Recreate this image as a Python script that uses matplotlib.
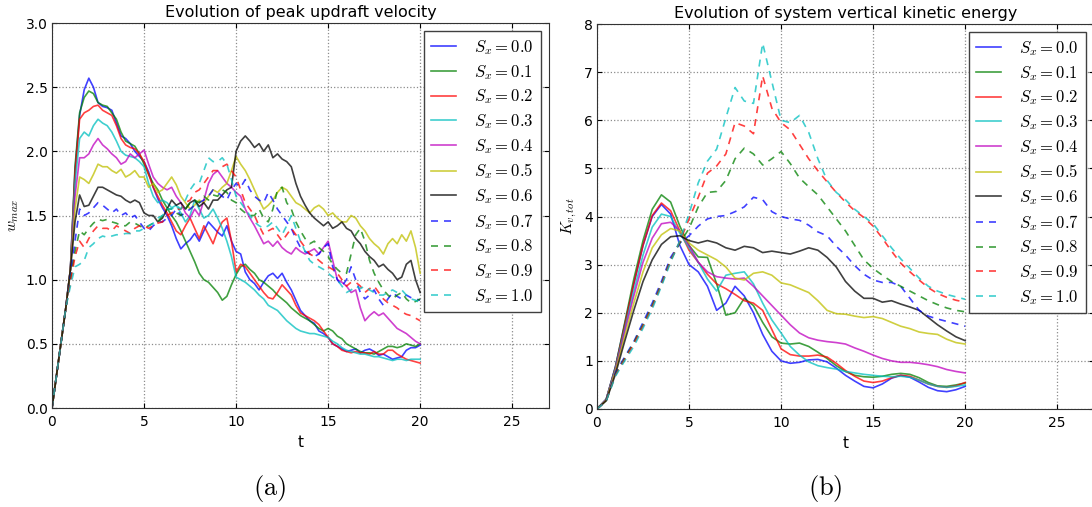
# Evolution of peak updraft velocity / vertical kinetic energy for different S_x
import numpy as np
import matplotlib
matplotlib.use('Agg')
import matplotlib.pyplot as plt

# ---------------- data ----------------
labels = ['$S_x = 0.0$', '$S_x = 0.1$', '$S_x = 0.2$', '$S_x = 0.3$',
          '$S_x = 0.4$', '$S_x = 0.5$', '$S_x = 0.6$', '$S_x = 0.7$',
          '$S_x = 0.8$', '$S_x = 0.9$', '$S_x = 1.0$']

# (a) peak updraft velocity, step 0.25
t_w = np.linspace(0, 20, 81)

w_s00 = [0.00, 0.26, 0.52, 0.78, 1.08, 1.85, 2.28, 2.48, 2.57, 2.50, 2.38, 2.35,
         2.34, 2.32, 2.22, 2.12, 2.10, 2.06, 2.00, 1.96, 1.92, 1.84, 1.72, 1.63,
         1.56, 1.50, 1.42, 1.32, 1.24, 1.28, 1.31, 1.36, 1.30, 1.38, 1.45, 1.41,
         1.37, 1.34, 1.42, 1.30, 1.22, 1.20, 1.06, 1.00, 0.97, 0.92, 0.98, 1.03,
         1.05, 1.01, 1.05, 0.98, 0.92, 0.84, 0.76, 0.72, 0.68, 0.66, 0.60, 0.58,
         0.55, 0.50, 0.48, 0.46, 0.44, 0.45, 0.46, 0.43, 0.45, 0.46, 0.44, 0.41,
         0.42, 0.40, 0.38, 0.39, 0.40, 0.45, 0.47, 0.47, 0.49]
w_s01 = [0.00, 0.26, 0.52, 0.78, 1.08, 1.88, 2.30, 2.42, 2.47, 2.45, 2.38, 2.36,
         2.35, 2.30, 2.25, 2.15, 2.08, 2.06, 2.04, 1.98, 1.90, 1.82, 1.75, 1.70,
         1.62, 1.56, 1.50, 1.45, 1.38, 1.30, 1.22, 1.14, 1.05, 1.00, 0.98, 0.94,
         0.90, 0.84, 0.87, 0.96, 1.04, 1.10, 1.12, 1.08, 1.05, 1.00, 0.98, 0.95,
         0.92, 0.88, 0.85, 0.82, 0.78, 0.75, 0.72, 0.70, 0.68, 0.65, 0.62, 0.60,
         0.62, 0.60, 0.56, 0.54, 0.50, 0.48, 0.46, 0.44, 0.43, 0.43, 0.42, 0.44,
         0.46, 0.48, 0.48, 0.47, 0.48, 0.50, 0.49, 0.48, 0.50]
w_s02 = [0.00, 0.26, 0.52, 0.78, 1.08, 1.82, 2.25, 2.30, 2.32, 2.35, 2.36, 2.32,
         2.30, 2.28, 2.20, 2.10, 2.05, 2.03, 2.02, 1.98, 1.92, 1.82, 1.72, 1.65,
         1.58, 1.52, 1.45, 1.38, 1.35, 1.42, 1.48, 1.40, 1.32, 1.42, 1.35, 1.28,
         1.38, 1.45, 1.48, 1.30, 1.06, 1.12, 1.10, 1.05, 1.00, 0.95, 0.90, 0.86,
         0.85, 0.90, 0.96, 0.92, 0.88, 0.80, 0.74, 0.72, 0.70, 0.68, 0.65, 0.60,
         0.55, 0.50, 0.48, 0.45, 0.44, 0.43, 0.44, 0.43, 0.43, 0.42, 0.44, 0.42,
         0.42, 0.45, 0.45, 0.42, 0.40, 0.38, 0.37, 0.36, 0.35]
w_s03 = [0.00, 0.26, 0.52, 0.78, 1.08, 1.75, 2.10, 2.15, 2.12, 2.20, 2.25, 2.22,
         2.20, 2.15, 2.08, 2.00, 1.97, 1.96, 1.95, 1.92, 1.88, 1.75, 1.65, 1.60,
         1.62, 1.60, 1.56, 1.58, 1.52, 1.45, 1.50, 1.62, 1.55, 1.48, 1.50, 1.55,
         1.48, 1.40, 1.30, 1.18, 1.02, 1.00, 0.98, 0.95, 0.92, 0.88, 0.85, 0.80,
         0.78, 0.76, 0.72, 0.68, 0.65, 0.62, 0.60, 0.59, 0.58, 0.58, 0.57, 0.56,
         0.55, 0.52, 0.50, 0.47, 0.45, 0.44, 0.43, 0.42, 0.42, 0.41, 0.40, 0.40,
         0.39, 0.38, 0.37, 0.38, 0.38, 0.37, 0.38, 0.38, 0.38]
w_s04 = [0.00, 0.26, 0.52, 0.78, 1.08, 1.65, 1.95, 1.95, 1.98, 2.05, 2.10, 2.05,
         2.02, 1.98, 1.95, 1.90, 1.92, 1.98, 1.95, 1.98, 2.01, 1.90, 1.80, 1.75,
         1.72, 1.70, 1.72, 1.65, 1.60, 1.52, 1.48, 1.55, 1.50, 1.62, 1.75, 1.82,
         1.85, 1.80, 1.75, 1.72, 1.68, 1.65, 1.55, 1.48, 1.42, 1.35, 1.28, 1.30,
         1.26, 1.30, 1.25, 1.22, 1.20, 1.25, 1.22, 1.20, 1.22, 1.24, 1.20, 1.25,
         1.30, 1.15, 1.00, 0.98, 0.95, 0.90, 0.92, 0.78, 0.68, 0.72, 0.75, 0.72,
         0.74, 0.70, 0.66, 0.62, 0.60, 0.58, 0.55, 0.52, 0.50]
w_s05 = [0.00, 0.26, 0.52, 0.78, 1.08, 1.55, 1.80, 1.78, 1.75, 1.82, 1.90, 1.88,
         1.88, 1.85, 1.83, 1.86, 1.80, 1.82, 1.85, 1.80, 1.80, 1.72, 1.75, 1.68,
         1.70, 1.75, 1.80, 1.74, 1.65, 1.60, 1.55, 1.58, 1.62, 1.60, 1.65, 1.70,
         1.68, 1.72, 1.75, 1.85, 1.96, 1.90, 1.85, 1.78, 1.70, 1.62, 1.55, 1.58,
         1.62, 1.68, 1.72, 1.70, 1.65, 1.60, 1.58, 1.55, 1.52, 1.56, 1.58, 1.55,
         1.50, 1.52, 1.48, 1.45, 1.45, 1.50, 1.48, 1.42, 1.38, 1.32, 1.28, 1.25,
         1.20, 1.28, 1.32, 1.28, 1.35, 1.30, 1.38, 1.25, 1.05]
w_s06 = [0.00, 0.26, 0.52, 0.78, 1.08, 1.45, 1.66, 1.57, 1.58, 1.65, 1.72, 1.72,
         1.70, 1.68, 1.66, 1.65, 1.62, 1.60, 1.62, 1.60, 1.52, 1.50, 1.50, 1.45,
         1.48, 1.55, 1.62, 1.58, 1.60, 1.55, 1.60, 1.62, 1.57, 1.60, 1.55, 1.62,
         1.62, 1.66, 1.70, 1.72, 2.00, 2.08, 2.12, 2.08, 2.03, 2.06, 2.00, 2.05,
         1.95, 1.98, 1.94, 1.92, 1.88, 1.75, 1.65, 1.58, 1.52, 1.48, 1.45, 1.42,
         1.45, 1.40, 1.42, 1.45, 1.40, 1.38, 1.32, 1.28, 1.22, 1.18, 1.15, 1.10,
         1.12, 1.08, 1.05, 1.00, 1.02, 1.12, 1.15, 1.00, 0.90]
w_s07 = [0.00, 0.26, 0.52, 0.78, 1.02, 1.30, 1.55, 1.50, 1.52, 1.56, 1.60, 1.58,
         1.55, 1.52, 1.55, 1.50, 1.52, 1.48, 1.50, 1.45, 1.40, 1.38, 1.42, 1.45,
         1.45, 1.48, 1.50, 1.55, 1.50, 1.52, 1.55, 1.58, 1.60, 1.62, 1.65, 1.70,
         1.68, 1.65, 1.62, 1.70, 1.75, 1.72, 1.78, 1.70, 1.65, 1.62, 1.60, 1.68,
         1.62, 1.55, 1.50, 1.45, 1.40, 1.32, 1.25, 1.22, 1.20, 1.18, 1.20, 1.25,
         1.28, 1.10, 1.00, 0.95, 1.00, 1.10, 1.00, 0.90, 0.85, 0.88, 0.92, 0.85,
         0.80, 0.85, 0.90, 0.87, 0.85, 0.88, 0.86, 0.85, 0.84]
w_s08 = [0.00, 0.26, 0.52, 0.78, 1.00, 1.22, 1.38, 1.35, 1.40, 1.44, 1.47, 1.46,
         1.47, 1.45, 1.44, 1.42, 1.42, 1.45, 1.44, 1.42, 1.40, 1.42, 1.44, 1.45,
         1.50, 1.55, 1.55, 1.52, 1.50, 1.55, 1.60, 1.62, 1.60, 1.65, 1.62, 1.66,
         1.65, 1.70, 1.68, 1.62, 1.60, 1.55, 1.52, 1.50, 1.50, 1.55, 1.48, 1.45,
         1.55, 1.70, 1.72, 1.60, 1.55, 1.45, 1.38, 1.32, 1.28, 1.30, 1.25, 1.22,
         1.18, 1.12, 1.08, 1.05, 1.05, 1.20, 1.35, 1.40, 1.30, 1.15, 1.05, 0.98,
         0.92, 0.88, 0.85, 0.88, 0.90, 0.85, 0.82, 0.83, 0.85]
w_s09 = [0.00, 0.26, 0.52, 0.78, 0.98, 1.18, 1.30, 1.25, 1.32, 1.38, 1.42, 1.40,
         1.40, 1.38, 1.42, 1.40, 1.38, 1.36, 1.40, 1.42, 1.42, 1.40, 1.42, 1.44,
         1.45, 1.50, 1.52, 1.55, 1.55, 1.60, 1.62, 1.68, 1.70, 1.75, 1.80, 1.85,
         1.85, 1.88, 1.90, 1.85, 1.80, 1.70, 1.60, 1.55, 1.50, 1.42, 1.35, 1.38,
         1.40, 1.35, 1.30, 1.35, 1.40, 1.35, 1.30, 1.25, 1.20, 1.18, 1.15, 1.12,
         1.10, 1.08, 1.05, 1.00, 0.95, 0.98, 0.98, 0.95, 0.90, 0.93, 0.95, 0.90,
         0.85, 0.82, 0.80, 0.78, 0.75, 0.73, 0.72, 0.70, 0.68]
w_s10 = [0.00, 0.26, 0.52, 0.78, 0.95, 1.10, 1.12, 1.15, 1.25, 1.28, 1.32, 1.34,
         1.33, 1.34, 1.35, 1.35, 1.36, 1.36, 1.38, 1.38, 1.40, 1.42, 1.44, 1.48,
         1.50, 1.55, 1.55, 1.58, 1.55, 1.62, 1.70, 1.75, 1.75, 1.85, 1.95, 1.92,
         1.92, 1.95, 1.90, 1.78, 1.65, 1.60, 1.55, 1.50, 1.45, 1.42, 1.40, 1.42,
         1.45, 1.40, 1.35, 1.42, 1.50, 1.40, 1.30, 1.22, 1.15, 1.12, 1.10, 1.08,
         1.05, 1.02, 1.00, 0.95, 0.90, 0.92, 0.95, 0.93, 0.95, 0.92, 0.90, 0.88,
         0.88, 0.90, 0.92, 0.90, 0.92, 0.88, 0.85, 0.84, 0.82]

# (b) system vertical kinetic energy, step 0.5
t_k = np.linspace(0, 20, 41)

k_s00 = [0.00, 0.20, 0.88, 1.75, 2.60, 3.40, 4.00, 4.25, 4.05, 3.40, 3.00, 2.85,
         2.55, 2.05, 2.20, 2.55, 2.35, 2.00, 1.55, 1.20, 1.00, 0.95, 0.97, 1.02,
         1.03, 0.98, 0.85, 0.70, 0.58, 0.47, 0.44, 0.52, 0.64, 0.70, 0.66, 0.56,
         0.45, 0.38, 0.36, 0.40, 0.47]
k_s01 = [0.00, 0.20, 0.87, 1.78, 2.70, 3.50, 4.15, 4.45, 4.30, 3.80, 3.40, 3.16,
         3.15, 2.60, 1.95, 2.00, 2.30, 2.15, 1.80, 1.50, 1.37, 1.35, 1.37, 1.30,
         1.18, 1.05, 0.90, 0.78, 0.70, 0.67, 0.66, 0.68, 0.72, 0.74, 0.72, 0.65,
         0.55, 0.48, 0.47, 0.50, 0.54]
k_s02 = [0.00, 0.20, 0.85, 1.72, 2.60, 3.40, 4.02, 4.28, 4.12, 3.70, 3.30, 3.05,
         2.80, 2.60, 2.50, 2.38, 2.25, 2.20, 2.05, 1.65, 1.25, 1.13, 1.10, 1.10,
         1.12, 1.08, 0.95, 0.80, 0.68, 0.58, 0.55, 0.58, 0.65, 0.70, 0.68, 0.60,
         0.52, 0.47, 0.45, 0.48, 0.55]
k_s03 = [0.00, 0.20, 0.83, 1.65, 2.45, 3.20, 3.78, 4.05, 4.00, 3.65, 3.35, 3.05,
         2.70, 2.45, 2.78, 2.82, 2.85, 2.60, 2.20, 1.85, 1.58, 1.30, 1.12, 0.98,
         0.90, 0.86, 0.83, 0.78, 0.75, 0.72, 0.70, 0.68, 0.67, 0.68, 0.66, 0.60,
         0.52, 0.47, 0.45, 0.47, 0.50]
k_s04 = [0.00, 0.19, 0.80, 1.60, 2.35, 3.05, 3.55, 3.85, 3.88, 3.70, 3.40, 3.05,
         2.85, 2.75, 2.72, 2.70, 2.72, 2.55, 2.35, 2.15, 1.95, 1.75, 1.58, 1.48,
         1.43, 1.40, 1.38, 1.35, 1.27, 1.20, 1.12, 1.05, 1.00, 0.97, 0.97, 0.95,
         0.92, 0.88, 0.82, 0.78, 0.75]
k_s05 = [0.00, 0.18, 0.78, 1.50, 2.20, 2.85, 3.35, 3.62, 3.75, 3.70, 3.45, 3.30,
         3.20, 3.10, 2.95, 2.72, 2.68, 2.82, 2.85, 2.78, 2.62, 2.58, 2.50, 2.42,
         2.25, 2.05, 1.98, 1.97, 1.93, 1.90, 1.92, 1.88, 1.80, 1.72, 1.67, 1.60,
         1.57, 1.55, 1.45, 1.38, 1.35]
k_s06 = [0.00, 0.17, 0.72, 1.40, 2.05, 2.65, 3.10, 3.42, 3.58, 3.60, 3.50, 3.45,
         3.50, 3.45, 3.35, 3.30, 3.38, 3.35, 3.25, 3.28, 3.25, 3.22, 3.28, 3.35,
         3.30, 3.15, 2.95, 2.65, 2.45, 2.30, 2.30, 2.22, 2.25, 2.18, 2.12, 2.05,
         1.90, 1.75, 1.62, 1.50, 1.42]
k_s07 = [0.00, 0.18, 0.75, 1.08, 1.40, 1.80, 2.20, 2.65, 3.15, 3.45, 3.60, 3.80,
         3.95, 4.00, 4.02, 4.10, 4.20, 4.40, 4.35, 4.10, 4.00, 3.95, 3.92, 3.82,
         3.68, 3.60, 3.38, 3.20, 2.98, 2.80, 2.68, 2.63, 2.63, 2.55, 2.30, 2.05,
         1.93, 1.87, 1.82, 1.77, 1.72]
k_s08 = [0.00, 0.18, 0.72, 1.05, 1.38, 1.75, 2.15, 2.60, 3.10, 3.45, 3.75, 4.20,
         4.50, 4.52, 4.75, 5.20, 5.42, 5.30, 5.07, 5.20, 5.35, 5.10, 4.80, 4.62,
         4.45, 4.20, 3.95, 3.70, 3.40, 3.10, 2.92, 2.78, 2.65, 2.55, 2.45, 2.35,
         2.25, 2.17, 2.10, 2.05, 2.02]
k_s09 = [0.00, 0.17, 0.70, 1.03, 1.35, 1.72, 2.12, 2.58, 3.08, 3.48, 3.95, 4.40,
         4.90, 5.05, 5.30, 5.95, 5.88, 5.72, 6.92, 6.25, 5.95, 5.80, 5.50, 5.20,
         4.95, 4.72, 4.50, 4.30, 4.12, 3.98, 3.80, 3.55, 3.28, 3.03, 2.85, 2.68,
         2.52, 2.40, 2.32, 2.26, 2.22]
k_s10 = [0.00, 0.16, 0.68, 1.00, 1.30, 1.68, 2.08, 2.55, 3.05, 3.50, 4.05, 4.70,
         5.15, 5.40, 6.05, 6.68, 6.40, 6.35, 7.60, 6.80, 6.00, 5.95, 6.10, 5.75,
         5.20, 4.75, 4.50, 4.35, 4.15, 4.00, 3.85, 3.60, 3.35, 3.12, 2.92, 2.72,
         2.55, 2.45, 2.38, 2.33, 2.28]

w_all = [w_s00, w_s01, w_s02, w_s03, w_s04, w_s05, w_s06, w_s07, w_s08, w_s09, w_s10]
k_all = [k_s00, k_s01, k_s02, k_s03, k_s04, k_s05, k_s06, k_s07, k_s08, k_s09, k_s10]

# ---------------- style ----------------
# old matplotlib colour cycle b, g, r, c, m, y, k
colors = [(0, 0, 1), (0, 0.5, 0), (1, 0, 0), (0, 0.75, 0.75), (0.75, 0, 0.75),
          (0.75, 0.75, 0), (0, 0, 0), (0, 0, 1), (0, 0.5, 0), (1, 0, 0), (0, 0.75, 0.75)]
dashed = [False] * 7 + [True] * 4

plt.rcParams['mathtext.fontset'] = 'cm'
plt.rcParams['font.family'] = ['DejaVu Sans']
plt.rcParams['xtick.direction'] = 'in'
plt.rcParams['ytick.direction'] = 'in'
plt.rcParams['xtick.top'] = True
plt.rcParams['ytick.right'] = True
plt.rcParams['xtick.labelsize'] = 10
plt.rcParams['ytick.labelsize'] = 10
plt.rcParams['xtick.major.pad'] = 5
plt.rcParams['ytick.major.pad'] = 3

fig = plt.figure(figsize=(10.92, 5.07), dpi=100)
ax1 = fig.add_axes([52 / 1092, 1 - 408 / 507, 497 / 1092, 385 / 507])
ax2 = fig.add_axes([597 / 1092, 1 - 409 / 507, 497 / 1092, 385 / 507])


def draw(ax, t, series, title, ylabel, ymax, yticks, ylabx):
    for y, c, d, lab in zip(series, colors, dashed, labels):
        if d:
            ax.plot(t, y, color=c, lw=1.2, alpha=0.75, dashes=(4.2, 3.6), label=lab)
        else:
            ax.plot(t, y, color=c, lw=1.2, alpha=0.75, label=lab)
    ax.set_xlim(0, 27)
    ax.set_ylim(0, ymax)
    ax.set_xticks([0, 5, 10, 15, 20, 25])
    ax.set_yticks(yticks)
    ax.grid(True, color='0.55', linestyle=':', linewidth=0.9)
    ax.set_title(title, fontsize=11.5, pad=4)
    ax.set_xlabel('t', fontsize=11)
    ax.xaxis.set_label_coords(0.5, -0.07)
    ax.set_ylabel(ylabel, fontsize=11)
    ax.yaxis.set_label_coords(ylabx, 0.5)
    for s in ax.spines.values():
        s.set_color('0.2')
    leg = ax.legend(loc='upper right', fontsize=12, handlelength=1.5,
                    handletextpad=1.1, labelspacing=0.35, borderaxespad=0.5,
                    fancybox=False, framealpha=1)
    leg.get_frame().set_edgecolor('0.25')
    leg.get_frame().set_linewidth(1.0)


draw(ax1, t_w, w_all, 'Evolution of peak updraft velocity', '$w_{max}$', 3.0,
     [0.0, 0.5, 1.0, 1.5, 2.0, 2.5, 3.0], -0.062)
ax1.set_yticklabels(['0.0', '0.5', '1.0', '1.5', '2.0', '2.5', '3.0'])
draw(ax2, t_k, k_all, 'Evolution of system vertical kinetic energy', '$K_{v,tot}$', 8,
     [0, 1, 2, 3, 4, 5, 6, 7, 8], -0.036)

fig.text(270 / 1092, 1 - 488 / 507, r'$\mathrm{(a)}$', fontsize=19, ha='center', va='center')
fig.text(825 / 1092, 1 - 488 / 507, r'$\mathrm{(b)}$', fontsize=19, ha='center', va='center')

fig.savefig('out.png', dpi=100)
